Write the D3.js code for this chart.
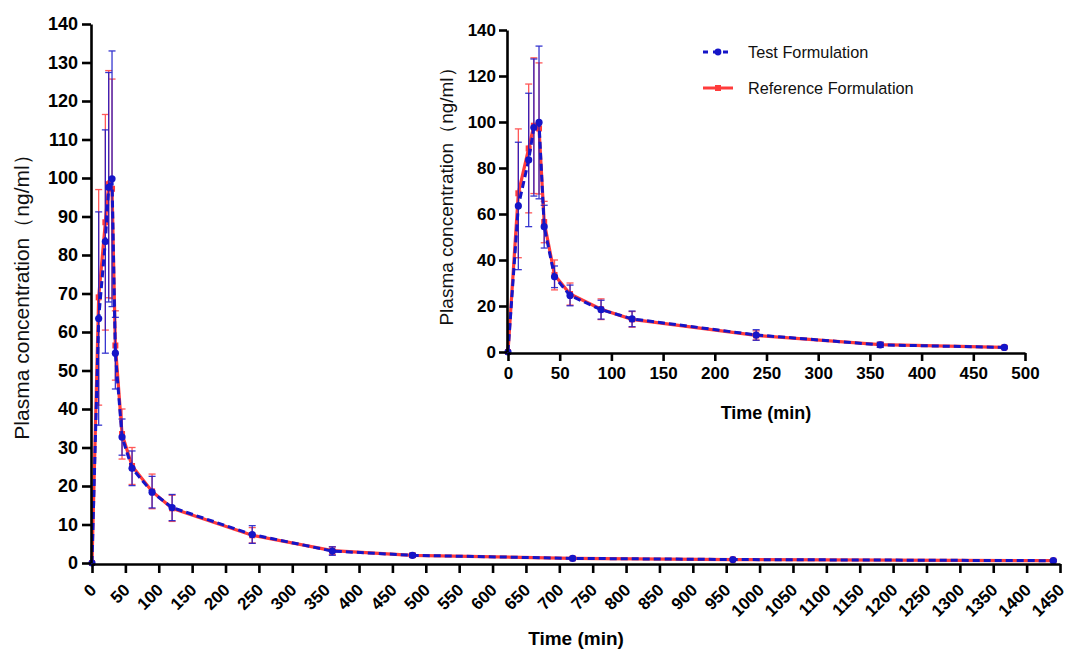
<!DOCTYPE html>
<html>
<head>
<meta charset="utf-8">
<script src="https://cdn.jsdelivr.net/npm/d3@7"></script>
<style>
  body { margin: 0; background: #fff; }
  svg { font-family: "Liberation Sans", Arial, sans-serif; }
</style>
</head>
<body>
<svg id="chart" width="1069" height="653"></svg>
<script>
// sampling times (min)
var times = [0, 10, 20, 25, 30, 35, 45, 60, 90, 120, 240, 360, 480, 720, 960, 1440];

// Test Formulation mean and SD
var testMean = [0, 63.5, 83.5, 97.6, 99.8, 54.5, 32.7, 24.6, 18.4, 14.4, 7.4, 3.1, 2.0, 1.2, 0.9, 0.6];
var testSD   = [0, 27.7, 29.0, 29.8, 33.2, 9.3, 4.7, 4.5, 4.1, 3.4, 2.3, 1.1, 0.5, 0.3, 0.2, 0.2];

// Reference Formulation mean and SD
var refMean = [0, 69.0, 88.5, 98.4, 97.2, 56.5, 33.5, 25.2, 18.6, 14.2, 7.2, 3.2, 2.0, 1.2, 0.9, 0.6];
var refSD   = [0, 28.0, 28.0, 29.5, 28.5, 9.0, 6.5, 4.8, 4.5, 3.4, 2.0, 1.0, 0.5, 0.3, 0.2, 0.2];

var seriesNames = ["Test Formulation", "Reference Formulation"];

var mainXTicks = d3.range(0, 1451, 50);
var mainYTicks = d3.range(0, 141, 10);
var insetXTicks = d3.range(0, 501, 50);
var insetYTicks = d3.range(0, 141, 20);

var blue = "#1515c8", red = "#ff3b3b";
var svg = d3.select("#chart");

function makeRows(mean, sd) {
    return times.map(function(t, i) { return {t: t, v: mean[i], sd: sd[i]}; });
}
var testRows = makeRows(testMean, testSD);
var refRows = makeRows(refMean, refSD);

function drawSeries(g, rows, x, y, color, dashed, marker, cap) {
    // error bars
    var eb = g.append("g").attr("stroke", color).attr("stroke-width", 1.3).attr("opacity", 0.85);
    rows.filter(function(d) { return d.sd > 0; }).forEach(function(d) {
        var cx = x(d.t);
        eb.append("line").attr("x1", cx).attr("x2", cx).attr("y1", y(d.v + d.sd)).attr("y2", y(d.v - d.sd));
        eb.append("line").attr("x1", cx - cap).attr("x2", cx + cap).attr("y1", y(d.v + d.sd)).attr("y2", y(d.v + d.sd));
        eb.append("line").attr("x1", cx - cap).attr("x2", cx + cap).attr("y1", y(d.v - d.sd)).attr("y2", y(d.v - d.sd));
    });
    var line = d3.line().x(function(d) { return x(d.t); }).y(function(d) { return y(d.v); });
    g.append("path").datum(rows)
        .attr("d", line)
        .attr("fill", "none")
        .attr("stroke", color)
        .attr("stroke-width", dashed ? 3 : 3.2)
        .attr("stroke-dasharray", dashed ? "7,4" : null);
    if (marker === "circle") {
        g.selectAll(null).data(rows).enter().append("circle")
            .attr("cx", function(d) { return x(d.t); })
            .attr("cy", function(d) { return y(d.v); })
            .attr("r", 3.6).attr("fill", color);
    } else {
        g.selectAll(null).data(rows).enter().append("rect")
            .attr("x", function(d) { return x(d.t) - 3; })
            .attr("y", function(d) { return y(d.v) - 3; })
            .attr("width", 6).attr("height", 6).attr("fill", color);
    }
}

function styleAxis(ax) {
    ax.select(".domain").attr("stroke", "#000").attr("stroke-width", 2.6);
    ax.selectAll(".tick line").attr("stroke", "#000").attr("stroke-width", 2.6);
    ax.selectAll(".tick text").attr("fill", "#000").attr("font-weight", "bold");
}

// ---------- main chart ----------
var x = d3.scaleLinear().domain([0, 1450]).range([92, 1060]);
var y = d3.scaleLinear().domain([0, 140]).range([563, 24]);

var mainG = svg.append("g");
drawSeries(mainG, refRows, x, y, red, false, "square", 3.5);
drawSeries(mainG, testRows, x, y, blue, true, "circle", 3.5);

var xAx = svg.append("g").attr("transform", "translate(0,564)")
    .call(d3.axisBottom(x).tickValues(mainXTicks).tickSize(9).tickSizeOuter(0).tickFormat(d3.format("d")));
styleAxis(xAx);
xAx.selectAll(".tick text")
    .attr("font-size", 17)
    .attr("text-anchor", "end")
    .attr("dy", null)
    .attr("y", 0)
    .attr("transform", "translate(5,27) rotate(-45)");

var yAx = svg.append("g").attr("transform", "translate(91,0)")
    .call(d3.axisLeft(y).tickValues(mainYTicks).tickSize(9).tickSizeOuter(0));
styleAxis(yAx);
yAx.selectAll(".tick text").attr("font-size", 18).attr("x", -13);

svg.append("text").attr("x", 576).attr("y", 645).attr("text-anchor", "middle")
    .attr("font-size", 19).attr("font-weight", "bold").text("Time (min)");
svg.append("text").attr("transform", "translate(29,292) rotate(-90)").attr("text-anchor", "middle")
    .attr("font-size", 21).attr("fill", "#111").text("Plasma concentration（ng/ml）");

// ---------- inset ----------
var xi = d3.scaleLinear().domain([0, 500]).range([508, 1025]);
var yi = d3.scaleLinear().domain([0, 140]).range([352, 30]);

var insetG = svg.append("g");
var insetRef = refRows.filter(function(d) { return d.t <= 500; });
var insetTest = testRows.filter(function(d) { return d.t <= 500; });
drawSeries(insetG, insetRef, xi, yi, red, false, "square", 3.5);
drawSeries(insetG, insetTest, xi, yi, blue, true, "circle", 3.5);

var xiAx = svg.append("g").attr("transform", "translate(0,353)")
    .call(d3.axisBottom(xi).tickValues(insetXTicks).tickSize(8).tickSizeOuter(0));
styleAxis(xiAx);
xiAx.selectAll(".tick text").attr("font-size", 17).attr("y", 14);

var yiAx = svg.append("g").attr("transform", "translate(507,0)")
    .call(d3.axisLeft(yi).tickValues(insetYTicks).tickSize(8).tickSizeOuter(0));
styleAxis(yiAx);
yiAx.selectAll(".tick text").attr("font-size", 17).attr("x", -11);

svg.append("text").attr("x", 766).attr("y", 419).attr("text-anchor", "middle")
    .attr("font-size", 18).attr("font-weight", "bold").text("Time (min)");
svg.append("text").attr("transform", "translate(453,192) rotate(-90)").attr("text-anchor", "middle")
    .attr("font-size", 19).attr("fill", "#111").text("Plasma concentration（ng/ml）");

// ---------- legend ----------
var legend = svg.append("g");
var legendRows = [
    {name: seriesNames[0], color: blue, dashed: true, marker: "circle", y: 52},
    {name: seriesNames[1], color: red, dashed: false, marker: "square", y: 88}
];
legendRows.forEach(function(r) {
    legend.append("line").attr("x1", 703).attr("x2", 733).attr("y1", r.y).attr("y2", r.y)
        .attr("stroke", r.color).attr("stroke-width", 3)
        .attr("stroke-dasharray", r.dashed ? "5,5" : null);
    if (r.marker === "circle") {
        legend.append("circle").attr("cx", 718).attr("cy", r.y).attr("r", 3.4).attr("fill", r.color);
    } else {
        legend.append("rect").attr("x", 715).attr("y", r.y - 3).attr("width", 6).attr("height", 6).attr("fill", r.color);
    }
    legend.append("text").attr("x", 748).attr("y", r.y + 5.5).attr("font-size", 16.3).attr("fill", "#111").text(r.name);
});
</script>
</body>
</html>
